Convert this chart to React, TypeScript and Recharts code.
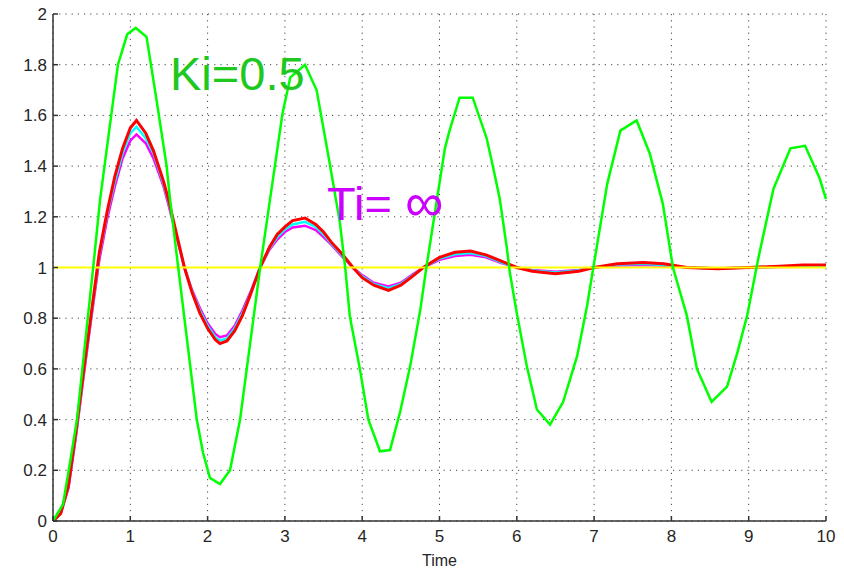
import { CartesianGrid, Line, LineChart, XAxis, YAxis } from "recharts";

// step response, Ki=0.5 (green, barely damped)
const kiTime = [0, 0.13, 0.22, 0.31, 0.52, 0.61, 0.84, 0.96, 1.07, 1.21, 1.34, 1.47, 1.51, 1.62, 1.86, 1.94, 2.03, 2.16, 2.29, 2.42, 2.68, 2.97, 3.07, 3.26, 3.41, 3.58, 3.71, 3.78, 3.84, 3.97, 4.08, 4.23, 4.36, 4.49, 4.62, 4.75, 4.83, 5.07, 5.13, 5.26, 5.43, 5.61, 5.69, 5.78, 5.87, 5.91, 6.0, 6.13, 6.26, 6.43, 6.6, 6.78, 6.91, 6.99, 7.17, 7.34, 7.55, 7.72, 7.89, 8.02, 8.2, 8.33, 8.52, 8.72, 8.85, 8.98, 9.12, 9.32, 9.54, 9.73, 9.92, 10];
const kiValue = [0, 0.066, 0.23, 0.4, 1.0, 1.27, 1.8, 1.92, 1.945, 1.91, 1.66, 1.4, 1.28, 1.0, 0.4, 0.27, 0.17, 0.146, 0.2, 0.4, 1.0, 1.61, 1.75, 1.8, 1.7, 1.41, 1.18, 1.0, 0.807, 0.6, 0.4, 0.275, 0.28, 0.43, 0.61, 0.83, 1.0, 1.47, 1.54, 1.67, 1.67, 1.51, 1.4, 1.27, 1.08, 0.98, 0.82, 0.61, 0.44, 0.38, 0.47, 0.65, 0.85, 1.0, 1.33, 1.54, 1.58, 1.45, 1.25, 1.0, 0.81, 0.6, 0.47, 0.53, 0.66, 0.81, 1.03, 1.31, 1.47, 1.48, 1.35, 1.27];

// damped responses (Ti = inf and neighbours)
const dampTime = [0, 0.1, 0.2, 0.3, 0.4, 0.5, 0.6, 0.7, 0.8, 0.9, 1.0, 1.08, 1.2, 1.3, 1.43, 1.5, 1.6, 1.7, 1.8, 1.9, 2.0, 2.1, 2.16, 2.25, 2.35, 2.45, 2.55, 2.68, 2.8, 2.9, 3.0, 3.1, 3.26, 3.4, 3.5, 3.6, 3.75, 3.88, 4.0, 4.15, 4.34, 4.5, 4.65, 4.79, 5.0, 5.2, 5.4, 5.6, 5.8, 6.0, 6.2, 6.5, 6.8, 7.0, 7.3, 7.64, 7.9, 8.2, 8.6, 9.0, 9.4, 9.7, 10];
const redValue = [0, 0.03, 0.14, 0.36, 0.6, 0.83, 1.06, 1.22, 1.36, 1.47, 1.55, 1.58, 1.53, 1.46, 1.34, 1.26, 1.13, 1.0, 0.9, 0.82, 0.76, 0.715, 0.7, 0.71, 0.75, 0.81, 0.89, 1.0, 1.08, 1.13, 1.16, 1.185, 1.195, 1.17, 1.14, 1.1, 1.05, 1.0, 0.96, 0.93, 0.91, 0.93, 0.965, 1.0, 1.04, 1.06, 1.065, 1.05, 1.025, 1.0, 0.985, 0.975, 0.985, 1.0, 1.015, 1.02, 1.015, 1.0, 0.995, 1.0, 1.005, 1.01, 1.01];
const cyanValue = [0, 0.03, 0.14, 0.35, 0.59, 0.82, 1.05, 1.21, 1.34, 1.45, 1.53, 1.555, 1.51, 1.45, 1.33, 1.25, 1.125, 1.0, 0.905, 0.83, 0.77, 0.725, 0.712, 0.72, 0.76, 0.82, 0.895, 1.0, 1.075, 1.12, 1.15, 1.17, 1.18, 1.16, 1.13, 1.095, 1.045, 1.0, 0.965, 0.935, 0.918, 0.935, 0.968, 1.0, 1.035, 1.052, 1.057, 1.045, 1.02, 1.0, 0.988, 0.98, 0.988, 1.0, 1.012, 1.015, 1.01, 1.0, 0.996, 1.0, 1.003, 1.005, 1.005];
const magentaValue = [0, 0.03, 0.13, 0.34, 0.58, 0.81, 1.03, 1.19, 1.32, 1.43, 1.5, 1.525, 1.49, 1.43, 1.32, 1.24, 1.12, 1.0, 0.91, 0.84, 0.78, 0.738, 0.725, 0.732, 0.77, 0.83, 0.9, 1.0, 1.07, 1.11, 1.14, 1.158, 1.165, 1.148, 1.12, 1.09, 1.04, 1.0, 0.97, 0.94, 0.925, 0.94, 0.972, 1.0, 1.03, 1.045, 1.05, 1.04, 1.018, 1.0, 0.99, 0.983, 0.99, 1.0, 1.008, 1.01, 1.007, 1.0, 0.997, 1.0, 1.002, 1.003, 1.003];

// reference step
const stepTime = [0, 10];
const stepValue = [1, 1];

const xTicks = [0, 1, 2, 3, 4, 5, 6, 7, 8, 9, 10];
const yTicks = [0, 0.2, 0.4, 0.6, 0.8, 1, 1.2, 1.4, 1.6, 1.8, 2];

const toRows = (t: number[], v: number[]) => t.map((x, i) => ({ t: x, v: v[i] }));

const axisColor = "#333333";
const font = "Liberation Sans, Arial, sans-serif";
const tickStyle = { fontFamily: font, fontSize: 17, fill: "#262626" };

export default function App() {
  return (
    <div style={{ position: "absolute", left: 0, top: 0, width: 844, height: 570, background: "#fff" }}>
      <LineChart width={844} height={570} margin={{ top: 14, right: 18, bottom: 19, left: 0 }}>
        <CartesianGrid stroke="#444" strokeDasharray="1.2 5" />
        <XAxis
          dataKey="t"
          type="number"
          domain={[0, 10]}
          ticks={xTicks}
          height={30}
          tickSize={-5}
          tickMargin={14}
          stroke={axisColor}
          strokeWidth={1.5}
          tick={tickStyle}
          label={{ value: "Time", position: "bottom", offset: 4, style: { ...tickStyle, fontSize: 16 } }}
        />
        <XAxis xAxisId="top" orientation="top" dataKey="t" type="number" domain={[0, 10]} ticks={xTicks} height={0} tickSize={-5} tick={false} stroke={axisColor} strokeWidth={1.5} />
        <YAxis
          type="number"
          domain={[0, 2]}
          ticks={yTicks}
          width={53}
          tickSize={-5}
          tickMargin={11}
          stroke={axisColor}
          strokeWidth={1.5}
          tick={tickStyle}
          tickFormatter={(v: number) => String(v)}
        />
        <YAxis yAxisId="right" orientation="right" type="number" domain={[0, 2]} ticks={yTicks} width={0} tickSize={-5} tick={false} stroke={axisColor} strokeWidth={1.5} />
        <Line data={toRows(dampTime, magentaValue)} dataKey="v" stroke="#ff00ff" strokeWidth={2.5} dot={false} type="linear" isAnimationActive={false} />
        <Line data={toRows(dampTime, cyanValue)} dataKey="v" stroke="#00ffff" strokeWidth={2.5} dot={false} type="linear" isAnimationActive={false} />
        <Line data={toRows(dampTime, redValue)} dataKey="v" stroke="#ff0000" strokeWidth={3} dot={false} type="linear" isAnimationActive={false} />
        <Line data={toRows(stepTime, stepValue)} dataKey="v" stroke="#ffff00" strokeWidth={2} dot={false} type="linear" isAnimationActive={false} />
        <Line data={toRows(kiTime, kiValue)} dataKey="v" stroke="#00ff00" strokeWidth={2.5} dot={false} type="linear" isAnimationActive={false} />
      </LineChart>
      <div style={{ position: "absolute", left: 170, top: 50, fontFamily: font, fontSize: 47, color: "#1ec81e", lineHeight: 1 }}>
        Ki=0.5
      </div>
      <div style={{ position: "absolute", left: 327, top: 174, fontFamily: font, fontSize: 47, color: "#cc00ff", lineHeight: 1, whiteSpace: "pre" }}>
        Ti= <span style={{ fontSize: 54, position: "relative", top: 1 }}>∞</span>
      </div>
    </div>
  );
}
